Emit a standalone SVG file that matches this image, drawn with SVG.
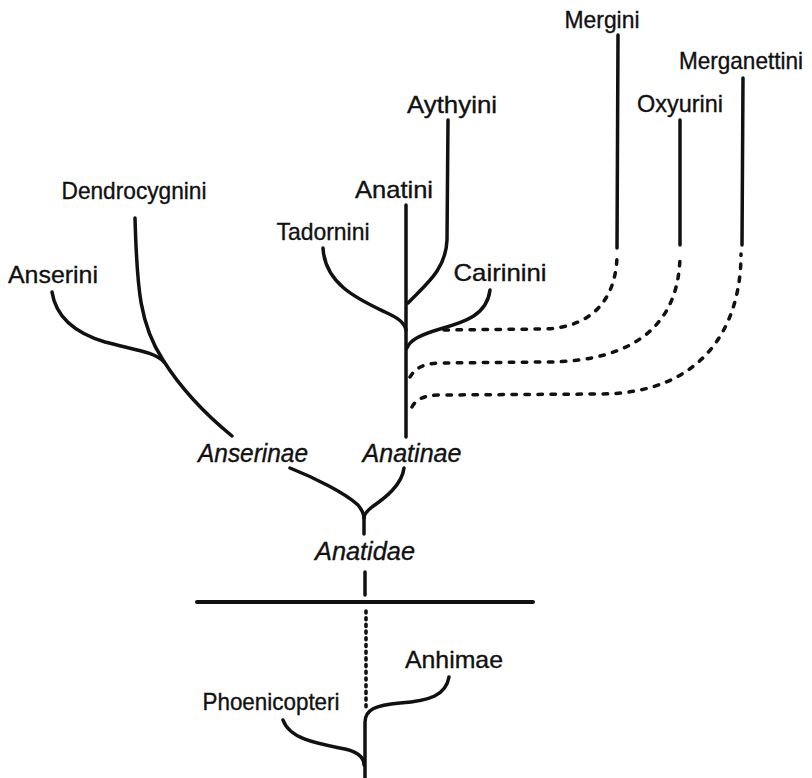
<svg xmlns="http://www.w3.org/2000/svg" width="812" height="778" viewBox="0 0 812 778">
<style>
  text { font-family: "Liberation Sans", "DejaVu Sans", sans-serif; fill: #111; stroke: #111; stroke-width: 0.35; text-anchor: middle; }
  .t { font-size: 24px; }
  .f { font-size: 25px; font-style: italic; }
  .ln { fill: none; stroke: #111; stroke-width: 3.5; stroke-linecap: round; stroke-linejoin: round; }
  .dash { stroke-dasharray: 4.5 8.5; }
  .dot { stroke-width: 3.6; stroke-dasharray: 2 4.7; }
</style>
<rect width="812" height="778" fill="#fff"/>
<g id="connectors">
  <path class="ln" d="M135,218 C137,290 140,325 163,360 C185,395 210,418 232,436"/>
  <path class="ln" d="M52,292 C56,318 75,333 105,342 C135,350 155,352 164,362"/>
  <path class="ln" d="M406,205 L406,437"/>
  <path class="ln" d="M448,120 L447,240 C446,270 425,285 408,303"/>
  <path class="ln" d="M323,248 C325,285 360,300 385,312 C398,318 404,322 406,330"/>
  <path class="ln" d="M490,290 C487,315 465,322 440,329 C420,335 410,340 407,348"/>
  <path class="ln" d="M618,35 L617,248"/>
  <path class="ln dash" d="M444,330 L540,329 C600,329 617,290 617,254"/>
  <path class="ln" d="M680,120 L680,245"/>
  <path class="ln dash" d="M410,377 C415,368 425,363 440,363 L545,362 C640,362 680,320 680,254"/>
  <path class="ln" d="M743,78 L742,245"/>
  <path class="ln dash" d="M412,407 C416,399 425,395 440,395 L600,394 C700,394 741,330 741,254"/>
  <path class="ln" d="M290,468 C315,478 345,493 358,505 C362,510 364,514 364,518"/>
  <path class="ln" d="M404,468 C402,485 385,498 372,507 C367,511 364,514 364,518"/>
  <path class="ln" d="M364,517 L364,534"/>
  <path class="ln" d="M365,572 L365,595"/>
  <path class="ln" style="stroke-width:4" d="M197,602 L533,602"/>
  <path class="ln dot" d="M366,611 L366,708"/>
  <path class="ln" d="M449,677 C446,695 430,701 400,703 C375,705 365,710 365,722 L365,778"/>
  <path class="ln" d="M283,720 C290,740 320,744 345,749 C358,752 364,758 364,765"/>
</g>
<g id="mergini"><text class="t" x="602" y="28" textLength="75" lengthAdjust="spacingAndGlyphs">Mergini</text></g>
<g id="merganettini"><text class="t" x="741" y="69" textLength="124" lengthAdjust="spacingAndGlyphs">Merganettini</text></g>
<g id="oxyurini"><text class="t" x="680" y="112" textLength="86" lengthAdjust="spacingAndGlyphs">Oxyurini</text></g>
<g id="aythyini"><text class="t" x="452" y="113" textLength="90" lengthAdjust="spacingAndGlyphs">Aythyini</text></g>
<g id="anatini"><text class="t" x="394" y="198" textLength="78" lengthAdjust="spacingAndGlyphs">Anatini</text></g>
<g id="dendrocygnini"><text class="t" x="134" y="199" textLength="145" lengthAdjust="spacingAndGlyphs">Dendrocygnini</text></g>
<g id="tadornini"><text class="t" x="323" y="240" textLength="93" lengthAdjust="spacingAndGlyphs">Tadornini</text></g>
<g id="anserini"><text class="t" x="53" y="283" textLength="90" lengthAdjust="spacingAndGlyphs">Anserini</text></g>
<g id="cairinini"><text class="t" x="500" y="281" textLength="93" lengthAdjust="spacingAndGlyphs">Cairinini</text></g>
<g id="anserinae"><text class="f" x="253" y="462" textLength="110" lengthAdjust="spacingAndGlyphs">Anserinae</text></g>
<g id="anatinae"><text class="f" x="412" y="462" textLength="99" lengthAdjust="spacingAndGlyphs">Anatinae</text></g>
<g id="anatidae"><text class="f" x="365" y="560" textLength="100" lengthAdjust="spacingAndGlyphs">Anatidae</text></g>
<g id="anhimae"><text class="t" x="454" y="668" textLength="98" lengthAdjust="spacingAndGlyphs">Anhimae</text></g>
<g id="phoenicopteri"><text class="t" x="271" y="710" textLength="137" lengthAdjust="spacingAndGlyphs">Phoenicopteri</text></g>
</svg>
